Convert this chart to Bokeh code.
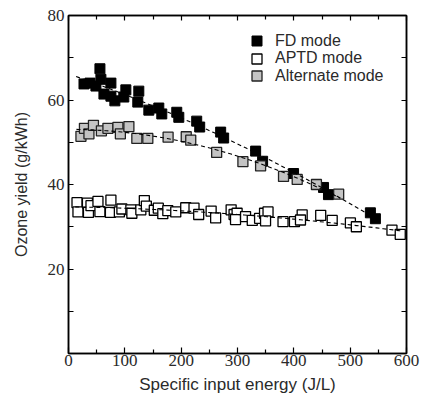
import numpy as np
from bokeh.plotting import figure
from bokeh.models import FixedTicker, LinearAxis, Legend, LegendItem, Range1d
from bokeh.embed import file_html
from bokeh.resources import INLINE

# FD mode (black)
fd_x = [27.5, 38.1, 48.7, 55.8, 57.5, 62.9, 75.3, 75.3, 82.3, 98.2, 101.8, 123.0, 124.8,
        142.6, 160.3, 165.6, 192.2, 195.8, 227.6, 232.9, 270.1, 275.4, 332.2, 344.6,
        399.5, 452.7, 461.5, 535.9, 544.8]
fd_y = [63.8, 64.0, 63.3, 67.4, 64.9, 61.4, 64.0, 60.9, 59.8, 60.7, 62.4, 59.5, 62.1,
        57.6, 58.1, 56.7, 57.1, 55.9, 55.0, 53.6, 52.4, 51.0, 47.9, 45.5,
        42.6, 39.3, 37.6, 33.3, 31.9]

# APTD mode (white)
aptd_x = [15.1, 16.8, 33.6, 35.4, 39.9, 52.3, 55.8, 75.3, 74.4, 90.3, 94.8, 110.7, 112.5,
          128.4, 134.6, 138.2, 152.3, 159.4, 167.4, 176.3, 190.4, 208.1, 222.8, 231.1,
          253.2, 261.2, 288.7, 293.9, 299.3, 296.5, 314.3, 326.2, 339.2, 348.0, 354.2,
          349.8, 380.8, 401.1, 414.8, 411.8, 447.7, 468.1, 500.4, 511.0, 574.2, 588.9]
aptd_y = [35.7, 33.5, 35.6, 33.4, 35.0, 36.0, 33.6, 36.3, 33.4, 33.5, 34.2, 34.0, 33.2,
          34.0, 36.2, 34.9, 33.9, 34.4, 33.1, 33.8, 33.5, 34.5, 34.4, 32.9,
          33.7, 32.1, 34.0, 32.9, 33.2, 31.7, 32.4, 31.5, 32.0, 33.2, 33.5,
          31.4, 31.2, 31.2, 32.8, 31.6, 32.7, 31.5, 30.9, 30.0, 29.2, 28.2]

# Alternate mode (gray)
alt_x = [22.1, 28.3, 36.3, 44.3, 58.4, 70.0, 87.7, 92.1, 107.2, 121.3, 140.8, 176.8,
         209.0, 217.0, 263.0, 309.6, 341.0, 381.7, 406.0, 440.1, 479.6]
alt_y = [51.4, 53.3, 52.0, 54.0, 52.7, 53.3, 53.5, 52.0, 53.7, 50.9, 50.9, 51.2,
         51.3, 50.5, 47.6, 45.4, 44.4, 41.9, 41.2, 40.0, 37.7]

series_labels = ["FD mode", "APTD mode", "Alternate mode"]
x_ticks = [0, 100, 200, 300, 400, 500, 600]
x_minor = [50, 150, 250, 350, 450, 550]
y_ticks = [20, 40, 60, 80]
y_minor = [10, 30, 50, 70]

TICK_FONT = "Liberation Sans Narrow"
TEXT_FONT = "Liberation Sans"
TXT = "#2a2a2a"

p = figure(frame_width=338, frame_height=338, x_range=Range1d(0, 600), y_range=Range1d(0, 80),
           output_backend="svg", toolbar_location=None,
           min_border_left=68, min_border_right=15, min_border_top=15, min_border_bottom=44)
p.grid.visible = False
p.outline_line_color = "black"
p.outline_line_width = 1.5

xa = p.xaxis[0]
xa.ticker = FixedTicker(ticks=x_ticks, minor_ticks=x_minor)
xa.axis_label = "Specific input energy (J/L)"
ya = p.yaxis[0]
ya.ticker = FixedTicker(ticks=y_ticks, minor_ticks=y_minor)
ya.axis_label = "Ozone yield (g/kWh)"

for ax in (xa, ya):
    ax.axis_line_width = 1.5
    ax.major_tick_in = 6
    ax.major_tick_out = 0
    ax.minor_tick_in = 4
    ax.minor_tick_out = 0
    ax.major_tick_line_width = 1.2
    ax.minor_tick_line_width = 1.2
    ax.major_label_text_font = TICK_FONT
    ax.major_label_text_font_size = "17px"
    ax.major_label_text_color = TXT
    ax.axis_label_text_font = TEXT_FONT
    ax.axis_label_text_font_size = "17px"
    ax.axis_label_text_font_style = "normal"
    ax.axis_label_text_color = TXT
ya.minor_tick_in = 5
ya.major_tick_in = 5
xa.major_label_standoff = 1
xa.axis_label_standoff = 6
ya.major_label_standoff = 4
ya.axis_label_standoff = 15
ya.axis_label_text_font_size = "16px"

for loc, tk, mn in (("above", x_ticks, x_minor), ("right", y_ticks, y_minor)):
    ax = LinearAxis(ticker=FixedTicker(ticks=tk, minor_ticks=mn),
                    major_label_text_font_size="1px", major_label_text_color=None,
                    major_label_standoff=0,
                    axis_line_width=1.5, major_tick_in=5, major_tick_out=0,
                    minor_tick_in=5 if loc == "right" else 4, minor_tick_out=0,
                    major_tick_line_width=1.2, minor_tick_line_width=1.2)
    p.add_layout(ax, loc)

r_fd = p.scatter(fd_x, fd_y, marker="square", size=10, fill_color="black",
                 line_color="black", line_width=1)
r_ap = p.scatter(aptd_x, aptd_y, marker="square", size=10, fill_color="white",
                 line_color="black", line_width=1.3)
r_alt = p.scatter(alt_x, alt_y, marker="square", size=10, fill_color="#c4c4c4",
                  line_color="#222222", line_width=1.3)

for xs, ys, pad_l, pad_r in ((fd_x, fd_y, 14, 4), (alt_x, alt_y, 8, 3), (aptd_x, aptd_y, 3, 5)):
    c = np.polyfit(xs, ys, 2)
    xx = np.linspace(min(xs) - pad_l, max(xs) + pad_r, 100)
    p.line(xx, np.polyval(c, xx), line_color="black", line_width=1.1, line_dash="4 3")

# one legend per entry so the rows can sit closer than the glyph box height
for i, (lab, rend) in enumerate(zip(series_labels, [r_fd, r_ap, r_alt])):
    lg = Legend(items=[LegendItem(label=lab, renderers=[rend])],
                location=(176, 300 - i * 17.5), glyph_width=25, glyph_height=25,
                padding=0, margin=0, border_line_color=None, background_fill_alpha=0,
                label_standoff=6, label_text_font=TEXT_FONT, label_text_font_size="16px",
                label_height=17, label_text_color=TXT)
    p.add_layout(lg)

open("out.html", "w").write(file_html(p, INLINE))
